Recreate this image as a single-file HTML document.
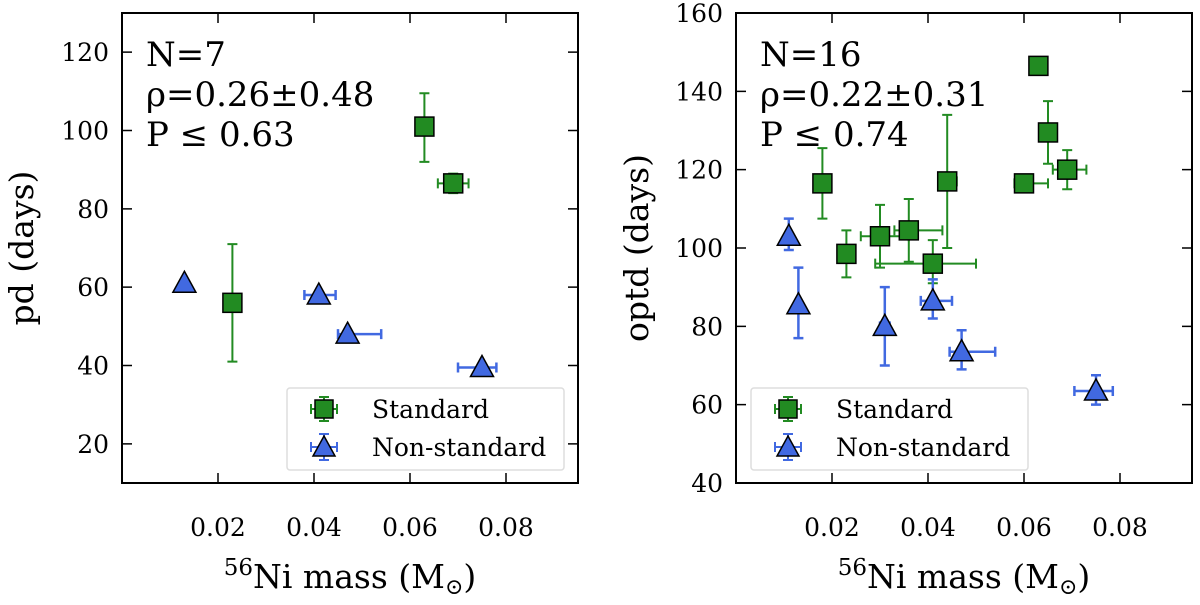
<!DOCTYPE html>
<html><head><meta charset="utf-8"><style>
body{margin:0;background:#fff;width:1200px;height:600px;overflow:hidden}
svg text{font-family:"DejaVu Serif","Liberation Serif",serif;fill:#000}
</style></head><body>
<svg id="c" width="1200" height="600"></svg>
<script>
// Panel 1: pd vs Ni mass
const p1StdX=[0.063,0.069,0.023];
const p1StdY=[101,86.5,56];
const p1StdXlo=[0,0.0032,0];
const p1StdXhi=[0,0.0032,0];
const p1StdYlo=[9,2.5,15];
const p1StdYhi=[8.5,2.5,15];
const p1NonX=[0.013,0.041,0.047,0.075];
const p1NonY=[61,58,48,39.5];
const p1NonXlo=[0,0.003,0.002,0.005];
const p1NonXhi=[0,0.0035,0.007,0.003];
const p1NonYlo=[0,0,0,0];
const p1NonYhi=[0,0,0,0];
// Panel 2: optd vs Ni mass
const p2StdX=[0.018,0.023,0.030,0.036,0.041,0.044,0.060,0.063,0.065,0.069];
const p2StdY=[116.5,98.5,103,104.5,96,117,116.5,146.5,129.5,120];
const p2StdXlo=[0,0,0.004,0.003,0.012,0,0.002,0,0,0.003];
const p2StdXhi=[0,0,0.006,0.007,0.009,0.002,0.005,0,0.001,0.004];
const p2StdYlo=[9,6,8,8,5,17,0,0,8,5];
const p2StdYhi=[9,6,8,8,6,17,0,0,8,5];
const p2NonX=[0.011,0.013,0.031,0.041,0.047,0.075];
const p2NonY=[103,85.5,80,86.5,73.5,63.5];
const p2NonXlo=[0,0,0.001,0.0025,0.0025,0.0045];
const p2NonXhi=[0,0,0.001,0.004,0.007,0.0035];
const p2NonYlo=[3.5,8.5,10,4.5,4.5,3.5];
const p2NonYhi=[4.5,9.5,10,5.5,5.5,4];
const xTicks=[0.02,0.04,0.06,0.08];
const xTickLabels=["0.02","0.04","0.06","0.08"];
const p1YTicks=[20,40,60,80,100,120];
const p2YTicks=[40,60,80,100,120,140,160];

const NS="http://www.w3.org/2000/svg";
const svg=document.getElementById('c');
function mk(tag,attrs,parent,txt){const e=document.createElementNS(NS,tag);for(const k in attrs)e.setAttribute(k,attrs[k]);if(txt!==undefined)e.textContent=txt;(parent||svg).appendChild(e);return e;}

function panel(cfg){
  const g=mk('g',{});
  
  
  const L=cfg.L,R=cfg.R,T=13,B=483;
  const sx=v=>L+(v-0)/(0.095-0)*(R-L);
  const sy=v=>B-(v-cfg.ymin)/(cfg.ymax-cfg.ymin)*(B-T);
  xTicks.forEach((t,i)=>{
    const x=sx(t);
    const tk=mk('path',{d:`M${x},${B}V${B-10}M${x},${T}V${T+10}`,stroke:'#000','stroke-width':1.5},g);
    
    
    const tl=mk('text',{x:x,y:536,'text-anchor':'middle','font-size':25},g,xTickLabels[i]);
    
    
  });
  cfg.yticks.forEach(t=>{
    const y=sy(t);
    const tk=mk('path',{d:`M${L},${y}H${L+10}M${R},${y}H${R-10}`,stroke:'#000','stroke-width':1.5},g);
    
    
    const tl=mk('text',{x:L-13,y:y+9,'text-anchor':'end','font-size':25},g,String(t));
    
    
  });
  function series(X,Y,xlo,xhi,ylo,yhi,col,shape,nm){
    X.forEach((v,i)=>{
      const x=sx(v),y=sy(Y[i]);
      let d='';
      if(xlo[i]||xhi[i]){const a=sx(v-xlo[i]),b=sx(v+xhi[i]);d+=`M${a},${y}H${b}M${a},${y-5}V${y+5}M${b},${y-5}V${y+5}`;}
      if(ylo[i]||yhi[i]){const a=sy(Y[i]-ylo[i]),b=sy(Y[i]+yhi[i]);d+=`M${x},${a}V${b}M${x-5},${a}H${x+5}M${x-5},${b}H${x+5}`;}
      if(d){const e=mk('path',{d:d,stroke:col,'stroke-width':shape==='sq'?2:2.5,fill:'none'},g);
        
        }
      let m;
      if(shape==='sq') m=mk('rect',{x:x-9.5,y:y-9.5,width:19,height:19,fill:'#228b22',stroke:'#000','stroke-width':1.5},g);
      else m=mk('path',{d:`M${x},${y-12}L${x+11.5},${y+9}L${x-11.5},${y+9}Z`,fill:'#4169e1',stroke:'#000','stroke-width':1.5},g);
      
      
    });
  }
  series(cfg.sX,cfg.sY,cfg.sXlo,cfg.sXhi,cfg.sYlo,cfg.sYhi,'#228b22','sq','standard');
  series(cfg.nX,cfg.nY,cfg.nXlo,cfg.nXhi,cfg.nYlo,cfg.nYhi,'#4169e1','tri','non-standard');
  const fr=mk('rect',{x:L,y:T,width:R-L,height:B-T,fill:'none',stroke:'#000','stroke-width':2},g);
  
  
  cfg.ann.forEach((s,i)=>{
    const t=mk('text',{x:L+24,y:66+i*40,'font-size':34},g,s);
    
    
  });
  const lg=mk('g',{},g);
  
  
  mk('rect',{x:cfg.lx,y:388,width:277,height:82,fill:'#fff',stroke:'#ddd','stroke-width':1.5,rx:3},lg);
  const cx=cfg.lx+37;
  mk('path',{d:`M${cx-13},409H${cx+13}M${cx-13},404V414M${cx+13},404V414M${cx},397V421M${cx-5},397H${cx+5}M${cx-5},421H${cx+5}`,stroke:'#228b22','stroke-width':2},lg);
  mk('rect',{x:cx-9,y:400,width:18,height:18,fill:'#228b22',stroke:'#000','stroke-width':1.5},lg);
  const t1=mk('text',{x:cfg.lx+85,y:418,'font-size':25},lg,'Standard');
  
  
  mk('path',{d:`M${cx-13},447H${cx+13}M${cx-13},442V452M${cx+13},442V452M${cx},434V460M${cx-5},434H${cx+5}M${cx-5},460H${cx+5}`,stroke:'#4169e1','stroke-width':2},lg);
  mk('path',{d:`M${cx},${436}L${cx+11},${456}L${cx-11},${456}Z`,fill:'#4169e1',stroke:'#000','stroke-width':1.5},lg);
  const t2=mk('text',{x:cfg.lx+85,y:456,'font-size':25},lg,'Non-standard');
  
  
  const xl=mk('text',{x:(L+R)/2,y:588,'text-anchor':'middle','font-size':33},g);
  xl.innerHTML='<tspan font-size="23" dy="-13">56</tspan><tspan dy="13">Ni mass (M</tspan><tspan font-size="22" dy="6">⊙</tspan><tspan dy="-6">)</tspan>';
  
  
  const yl=mk('text',{x:0,y:0,'text-anchor':'middle','font-size':33,transform:`translate(${cfg.ylx},248) rotate(-90)`},g,cfg.ylabel);
  
  
}
panel({name:'panel-pd',L:122,R:578,ymin:10,ymax:130,yticks:p1YTicks,
  sX:p1StdX,sY:p1StdY,sXlo:p1StdXlo,sXhi:p1StdXhi,sYlo:p1StdYlo,sYhi:p1StdYhi,
  nX:p1NonX,nY:p1NonY,nXlo:p1NonXlo,nXhi:p1NonXhi,nYlo:p1NonYlo,nYhi:p1NonYhi,
  ann:['N=7','ρ=0.26±0.48','P ≤ 0.63'],lx:287,ylabel:'pd (days)',ylx:33});
panel({name:'panel-optd',L:736,R:1192,ymin:40,ymax:160,yticks:p2YTicks,
  sX:p2StdX,sY:p2StdY,sXlo:p2StdXlo,sXhi:p2StdXhi,sYlo:p2StdYlo,sYhi:p2StdYhi,
  nX:p2NonX,nY:p2NonY,nXlo:p2NonXlo,nXhi:p2NonXhi,nYlo:p2NonYlo,nYhi:p2NonYhi,
  ann:['N=16','ρ=0.22±0.31','P ≤ 0.74'],lx:751,ylabel:'optd (days)',ylx:648});
</script>
</body></html>
